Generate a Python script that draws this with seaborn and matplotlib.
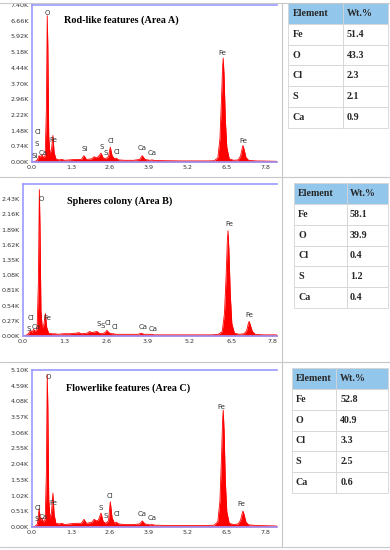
import numpy as np
import pandas as pd
import seaborn as sns
import matplotlib.pyplot as plt
from matplotlib.lines import Line2D
from matplotlib.ticker import FuncFormatter

# Energy grid (keV) shared by the three spectra
energy = [0.00, 0.10, 0.18, 0.24, 0.28, 0.33, 0.38, 0.44, 0.48, 0.51, 0.53, 0.56,
          0.60, 0.65, 0.70, 0.74, 0.80, 0.90, 1.00, 1.10, 1.25, 1.45, 1.65, 1.74,
          1.82, 2.00, 2.08, 2.15, 2.22, 2.31, 2.38, 2.46, 2.56, 2.62, 2.68, 2.76,
          2.82, 2.90, 3.10, 3.40, 3.60, 3.69, 3.78, 3.95, 4.02, 4.10, 4.50, 5.00,
          5.50, 5.90, 6.10, 6.22, 6.29, 6.34, 6.38, 6.40, 6.43, 6.47, 6.52, 6.60,
          6.75, 6.90, 6.98, 7.03, 7.06, 7.10, 7.16, 7.25, 7.50, 7.90, 8.20]

# Counts (K)
counts_a = [0.00, 0.02, 0.10, 0.30, 0.22, 0.35, 0.20, 0.30, 2.40, 6.90, 5.40, 1.20,
            0.40, 0.55, 1.25, 0.45, 0.15, 0.10, 0.12, 0.08, 0.10, 0.12, 0.12, 0.30,
            0.12, 0.15, 0.25, 0.20, 0.25, 0.42, 0.20, 0.15, 0.25, 0.70, 0.30, 0.15,
            0.18, 0.10, 0.08, 0.08, 0.12, 0.30, 0.12, 0.08, 0.10, 0.07, 0.06, 0.05,
            0.05, 0.05, 0.06, 0.20, 1.10, 2.90, 4.50, 4.90, 4.00, 2.00, 0.70, 0.15,
            0.08, 0.10, 0.28, 0.62, 0.78, 0.58, 0.22, 0.08, 0.05, 0.04, 0.03]

counts_b = [0.00, 0.01, 0.05, 0.10, 0.06, 0.12, 0.08, 0.12, 0.95, 2.60, 1.95, 0.45,
            0.15, 0.20, 0.40, 0.15, 0.05, 0.04, 0.04, 0.03, 0.04, 0.04, 0.05, 0.06,
            0.04, 0.05, 0.08, 0.06, 0.07, 0.08, 0.05, 0.04, 0.06, 0.10, 0.06, 0.04,
            0.04, 0.03, 0.03, 0.03, 0.03, 0.05, 0.03, 0.03, 0.03, 0.02, 0.02, 0.02,
            0.02, 0.02, 0.03, 0.08, 0.40, 1.05, 1.70, 1.87, 1.50, 0.75, 0.22, 0.05,
            0.03, 0.04, 0.09, 0.21, 0.26, 0.19, 0.08, 0.03, 0.02, 0.02, 0.01]

counts_c = [0.00, 0.02, 0.10, 0.60, 0.20, 0.30, 0.15, 0.25, 1.70, 4.95, 3.90, 0.90,
            0.30, 0.45, 1.10, 0.40, 0.12, 0.10, 0.12, 0.08, 0.10, 0.12, 0.12, 0.25,
            0.12, 0.15, 0.25, 0.20, 0.22, 0.45, 0.18, 0.12, 0.20, 0.82, 0.30, 0.12,
            0.16, 0.10, 0.08, 0.08, 0.10, 0.20, 0.10, 0.07, 0.08, 0.06, 0.05, 0.05,
            0.05, 0.05, 0.06, 0.18, 0.85, 2.20, 3.50, 3.80, 3.10, 1.50, 0.50, 0.12,
            0.08, 0.10, 0.22, 0.42, 0.52, 0.40, 0.16, 0.07, 0.05, 0.04, 0.03]

titles = ["Rod-like features (Area A)", "Spheres colony (Area B)", "Flowerlike features (Area C)"]
y_steps = [0.74, 0.27, 0.51]
y_maxes = [7.40, 2.70, 5.10]
x_maxes = [8.2, 7.93, 8.2]
x_ticks = [0.0, 1.3, 2.6, 3.9, 5.2, 6.5, 7.8]

# Peak labels: symbol, energy, height (K)
peak_syms = ["O", "Cl", "S", "Ca", "Fe", "S", "S", "Cl", "Cl", "Ca", "Ca", "Fe", "Fe"]
label_pos_a = [(0.52, 7.00), (0.20, 1.41), (0.17, 0.85), (0.37, 0.42), (0.70, 1.04),
               (2.34, 0.71), (2.47, 0.42), (2.64, 0.99), (2.84, 0.47), (3.70, 0.66),
               (4.01, 0.42), (6.38, 5.14), (7.06, 0.99)]
label_pos_b = [(0.56, 2.43), (0.25, 0.32), (0.19, 0.12), (0.40, 0.16), (0.75, 0.32),
               (2.35, 0.21), (2.50, 0.18), (2.66, 0.23), (2.88, 0.16), (3.75, 0.16),
               (4.06, 0.12), (6.44, 1.99), (7.06, 0.37)]
label_pos_c = [(0.54, 4.87), (0.20, 0.62), (0.17, 0.26), (0.37, 0.32), (0.70, 0.78),
               (2.31, 0.62), (2.47, 0.36), (2.61, 1.00), (2.84, 0.42), (3.68, 0.42),
               (4.01, 0.29), (6.35, 3.90), (7.02, 0.75)]
extra_a = [("Si", 0.10, 0.28), ("Si", 1.77, 0.61)]

# EDS tables
elements = ["Fe", "O", "Cl", "S", "Ca"]
wt_a = ["51.4", "43.3", "2.3", "2.1", "0.9"]
wt_b = ["58.1", "39.9", "0.4", "1.2", "0.4"]
wt_c = ["52.8", "40.9", "3.3", "2.5", "0.6"]

sns.set_theme(style="white")
plt.rcParams["font.family"] = ["DejaVu Sans"]

W, H = 390, 550
fig = plt.figure(figsize=(3.9, 5.5), dpi=100)


def box(l, t, r, b):
    return [l / W, 1 - b / H, (r - l) / W, (b - t) / H]


spec_boxes = [box(32, 5, 277, 162), box(23, 184, 277, 336), box(32, 370, 277, 527)]
table_boxes = [(box(288, 3, 388, 128), 0.55), (box(294, 183, 388, 308), 0.56),
               (box(292, 368, 388, 493), 0.46)]
title_pos = [(121, 20), (120, 201), (128, 388)]

spectra = [counts_a, counts_b, counts_c]
labels = [label_pos_a, label_pos_b, label_pos_c]
wts = [wt_a, wt_b, wt_c]
blue = "#9a9aff"

for i in range(3):
    ax = fig.add_axes(spec_boxes[i])
    df = pd.DataFrame({"energy": energy, "counts": spectra[i]})
    ax.fill_between(df["energy"], df["counts"], color="#ff0000", lw=0)
    sns.lineplot(data=df, x="energy", y="counts", color="#ff0000", lw=0.6, ax=ax)
    ax.set_xlim(0, x_maxes[i])
    ax.set_ylim(0, y_maxes[i])
    ax.set_xticks(x_ticks)
    ax.set_yticks(np.arange(11 if i != 1 else 10) * y_steps[i])
    ax.xaxis.set_major_formatter(FuncFormatter(lambda v, p: f"{v:.1f}"))
    ax.yaxis.set_major_formatter(FuncFormatter(lambda v, p: f"{v:.2f}K"))
    ax.tick_params(labelsize=4.6, colors="#333333", length=1.5, width=0.5, pad=1)
    ax.set_xlabel("")
    ax.set_ylabel("")
    for s in ["left", "top", "bottom"]:
        ax.spines[s].set_color(blue)
        ax.spines[s].set_linewidth(1.2)
    ax.spines["right"].set_visible(False)
    ax.axhline(y_maxes[i] * 0.006, color="#ff0000", lw=0.8)
    for sym, (x, y) in zip(peak_syms, labels[i]):
        ax.text(x, y, sym, fontsize=5, color="#333333", ha="center", va="center")
    if i == 0:
        for sym, x, y in extra_a:
            ax.text(x, y, sym, fontsize=5, color="#333333", ha="center", va="center")
    fig.text(title_pos[i][0] / W, 1 - title_pos[i][1] / H, titles[i],
             family="Liberation Serif", weight="bold", fontsize=7.3,
             ha="center", va="center", color="black")

    # table of weights
    tb, c1 = table_boxes[i]
    tax = fig.add_axes(tb)
    tax.axis("off")
    tbl = tax.table(cellText=[[e, w] for e, w in zip(elements, wts[i])],
                    colLabels=["Element", "Wt.%"], colWidths=[c1, 1 - c1],
                    cellLoc="left", colLoc="left", bbox=[0, 0, 1, 1])
    tbl.auto_set_font_size(False)
    for (r, c), cell in tbl.get_celld().items():
        cell.set_edgecolor("#d4d4d4")
        cell.set_linewidth(0.6)
        cell.PAD = 0.08
        cell.get_text().set_fontsize(7.2)
        cell.get_text().set_fontfamily("Liberation Serif")
        cell.get_text().set_fontweight("bold")
        if r == 0:
            cell.set_facecolor("#92c6ea")

# panel separators
grey = "#c8c8c8"
for y in [3, 177, 362, 547]:
    fig.add_artist(Line2D([0, 1], [1 - y / H, 1 - y / H], color=grey, lw=0.8))
fig.add_artist(Line2D([282 / W, 282 / W], [1 - 547 / H, 1 - 3 / H], color=grey, lw=0.8))

fig.savefig("out.png", dpi=100)
